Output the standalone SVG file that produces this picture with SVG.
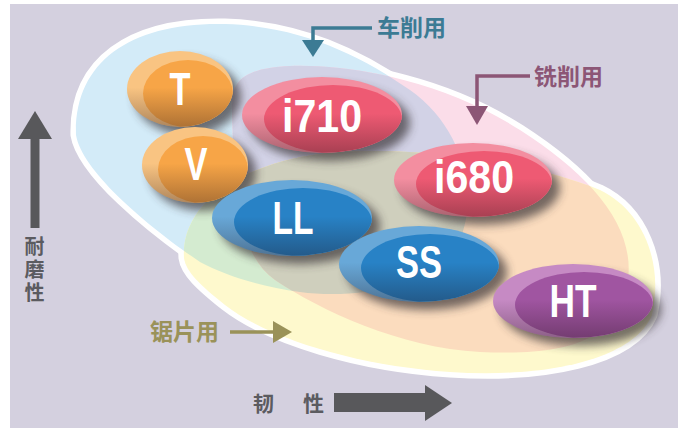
<svg xmlns="http://www.w3.org/2000/svg" width="678" height="428" viewBox="0 0 678 428">
<style>
.bt{fill:#fff;font-family:"Liberation Sans Narrow","Liberation Sans",Arial,sans-serif;font-weight:bold;font-size:46px;text-anchor:middle}
.lbl{font-family:"Noto Sans CJK SC","Noto Sans CJK JP",sans-serif;font-weight:bold;font-size:23px}
.ax{fill:#5b5b60;font-family:"Noto Sans CJK SC","Noto Sans CJK JP",sans-serif;font-weight:bold;font-size:21px}
.sh{fill:#3b3438;opacity:.7;filter:url(#blur)}
.outl{fill:none;stroke:#fff;stroke-width:11}
</style>
<defs>
<filter id="blur" x="-40%" y="-40%" width="180%" height="180%"><feGaussianBlur stdDeviation="5"/></filter>
<linearGradient id="shade" x1="0" y1="0" x2="0" y2="1">
<stop offset="0.48" stop-color="#1a0a10" stop-opacity="0"/>
<stop offset="1" stop-color="#1a0a10" stop-opacity="0.33"/>
</linearGradient>
<path id="pB" d="M76,135 C74,62 130,22 225,24 C300,26 360,55 410,90 C460,125 480,190 460,240 C440,285 360,300 300,292 C260,287 225,275 200,262 C150,228 82,172 76,135 Z"/>
<path id="pP" d="M232,110 C230,80 245,68 290,66 C360,64 450,85 520,130 C590,175 635,225 628,280 C620,340 570,356 480,352 C400,348 320,310 275,280 C240,255 234,200 232,110 Z"/>
<path id="pY" d="M184,258 C180,200 250,158 340,152 C430,146 540,165 600,190 C642,210 664,262 652,315 C632,362 540,378 450,372 C360,366 270,340 225,305 C200,285 186,272 184,258 Z"/>
<clipPath id="cB"><use href="#pB"/></clipPath>
<clipPath id="cP"><use href="#pP"/></clipPath>
<clipPath id="cT"><ellipse cx="180" cy="89" rx="53" ry="38"/></clipPath>
<clipPath id="cV"><ellipse cx="195" cy="165" rx="53" ry="38"/></clipPath>
<clipPath id="c710"><ellipse cx="322" cy="115" rx="80" ry="38"/></clipPath>
<clipPath id="c680"><ellipse cx="473" cy="180" rx="79" ry="37"/></clipPath>
<clipPath id="cLL"><ellipse cx="292" cy="218" rx="80" ry="38"/></clipPath>
<clipPath id="cSS"><ellipse cx="419" cy="264" rx="80" ry="38"/></clipPath>
<clipPath id="cHT"><ellipse cx="573" cy="301" rx="80" ry="37"/></clipPath>
</defs>

<rect x="10" y="4" width="668" height="424" fill="#d4d0df"/>

<g id="regions">
<use href="#pB" class="outl"/>
<use href="#pP" class="outl"/>
<use href="#pY" class="outl"/>
<use href="#pB" fill="#d3ebf8"/>
<use href="#pP" fill="#fbdde9"/>
<use href="#pY" fill="#fef9cd"/>
<use href="#pP" fill="#d2d2e6" clip-path="url(#cB)"/>
<use href="#pY" fill="#d4ebd0" clip-path="url(#cB)"/>
<use href="#pY" fill="#fbdcbe" clip-path="url(#cP)"/>
<g clip-path="url(#cB)"><use href="#pY" fill="#cfcfbd" clip-path="url(#cP)"/></g>
</g>

<g id="node-T">
<ellipse class="sh" cx="188" cy="97" rx="53" ry="38"/>
<ellipse cx="180" cy="89" rx="53" ry="38" fill="#f9c482"/>
<ellipse cx="188" cy="93.5" rx="45" ry="33.5" fill="#f7a547" clip-path="url(#cT)"/>
<ellipse cx="180" cy="89" rx="53" ry="38" fill="url(#shade)"/>
<text class="bt" x="180" y="105" textLength="21" lengthAdjust="spacingAndGlyphs">T</text>
</g>
<g id="node-V">
<ellipse class="sh" cx="203" cy="173" rx="53" ry="38"/>
<ellipse cx="195" cy="165" rx="53" ry="38" fill="#f9c482"/>
<ellipse cx="203" cy="169.5" rx="45" ry="33.5" fill="#f7a547" clip-path="url(#cV)"/>
<ellipse cx="195" cy="165" rx="53" ry="38" fill="url(#shade)"/>
<text class="bt" x="196" y="180" textLength="23" lengthAdjust="spacingAndGlyphs">V</text>
</g>
<g id="node-i710">
<ellipse class="sh" cx="330" cy="123" rx="80" ry="38"/>
<ellipse cx="322" cy="115" rx="80" ry="38" fill="#f38ea0"/>
<ellipse cx="333" cy="119" rx="69" ry="34" fill="#ee5a73" clip-path="url(#c710)"/>
<ellipse cx="322" cy="115" rx="80" ry="38" fill="url(#shade)"/>
<text class="bt" x="322" y="132" textLength="80" lengthAdjust="spacingAndGlyphs">i710</text>
</g>
<g id="node-i680">
<ellipse class="sh" cx="481" cy="188" rx="79" ry="37"/>
<ellipse cx="473" cy="180" rx="79" ry="37" fill="#f38ea0"/>
<ellipse cx="484" cy="184" rx="68" ry="33" fill="#ee5a73" clip-path="url(#c680)"/>
<ellipse cx="473" cy="180" rx="79" ry="37" fill="url(#shade)"/>
<text class="bt" x="474" y="193" textLength="80" lengthAdjust="spacingAndGlyphs">i680</text>
</g>
<g id="node-LL">
<ellipse class="sh" cx="300" cy="226" rx="80" ry="38"/>
<ellipse cx="292" cy="218" rx="80" ry="38" fill="#68a8d8"/>
<ellipse cx="303" cy="222" rx="69" ry="34" fill="#2882c6" clip-path="url(#cLL)"/>
<ellipse cx="292" cy="218" rx="80" ry="38" fill="url(#shade)"/>
<text class="bt" x="293" y="234" textLength="41" lengthAdjust="spacingAndGlyphs">LL</text>
</g>
<g id="node-SS">
<ellipse class="sh" cx="427" cy="272" rx="80" ry="38"/>
<ellipse cx="419" cy="264" rx="80" ry="38" fill="#68a8d8"/>
<ellipse cx="430" cy="268" rx="69" ry="34" fill="#2882c6" clip-path="url(#cSS)"/>
<ellipse cx="419" cy="264" rx="80" ry="38" fill="url(#shade)"/>
<text class="bt" x="419" y="278" textLength="46" lengthAdjust="spacingAndGlyphs">SS</text>
</g>
<g id="node-HT">
<ellipse class="sh" cx="581" cy="309" rx="80" ry="37"/>
<ellipse cx="573" cy="301" rx="80" ry="37" fill="#c68ac4"/>
<ellipse cx="584" cy="305" rx="69" ry="33" fill="#a055a1" clip-path="url(#cHT)"/>
<ellipse cx="573" cy="301" rx="80" ry="37" fill="url(#shade)"/>
<text class="bt" x="573" y="317" textLength="47" lengthAdjust="spacingAndGlyphs">HT</text>
</g>

<g id="connectors">
<polyline points="372,28 313,28 313,42" fill="none" stroke="#3c7b94" stroke-width="3.5"/>
<polygon points="302,40 324,40 313,57" fill="#3c7b94"/>
<polyline points="530,76 477,76 477,108" fill="none" stroke="#8c5676" stroke-width="3.5"/>
<polygon points="466,106 488,106 477,125" fill="#8c5676"/>
<line x1="230" y1="332" x2="275" y2="332" stroke="#9a9259" stroke-width="3.5"/>
<polygon points="273,321 273,343 292,332" fill="#9a9259"/>
<rect x="30.5" y="137" width="9" height="91" fill="#58585b"/>
<polygon points="18,139 52,139 35,111" fill="#58585b"/>
<rect x="334" y="393" width="92" height="19" fill="#58585b"/>
<polygon points="425,385 425,421 452,403" fill="#58585b"/>
</g>

<g id="labels">
<text class="lbl" x="377" y="36" fill="#3c7b94">车削用</text>
<text class="lbl" x="534" y="85" fill="#8c5676">铣削用</text>
<text class="lbl" x="150" y="340" fill="#9a9259">锯片用</text>
<text class="ax" x="34.5" y="236" writing-mode="tb" style="font-size:20px;letter-spacing:3px">耐磨性</text>
<text class="ax"><tspan x="253" y="411">韧</tspan><tspan x="303" y="411">性</tspan></text>
</g>
</svg>
